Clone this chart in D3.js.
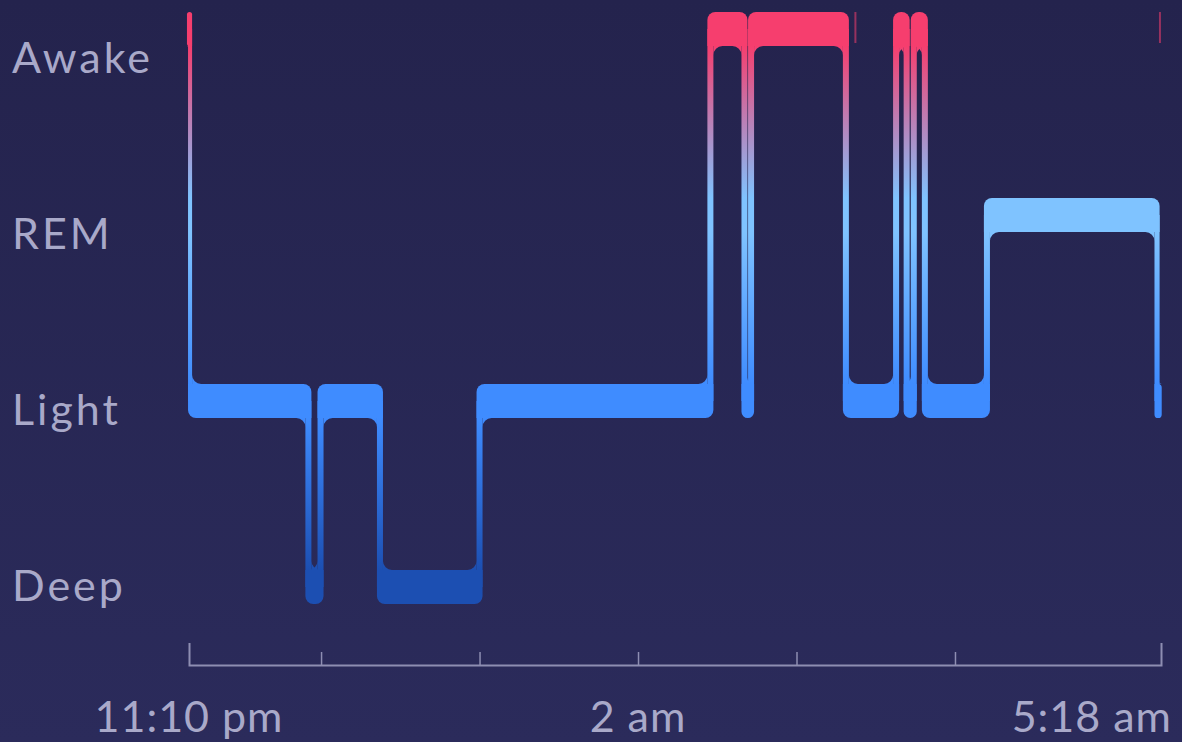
<!DOCTYPE html>
<html><head><meta charset="utf-8">
<script src="https://cdn.jsdelivr.net/npm/d3@7"></script>
<style>html,body{margin:0;padding:0;background:#26254f;overflow:hidden}</style>
</head><body><svg id="c" width="1182" height="742"></svg>
<script>
// ---- data ----
const stageNames = ["Awake", "REM", "Light", "Deep"];
// sleep segments: stage and start time (minutes after 11:10 pm)
const segStages   = ["Awake","Light","Deep","Light","Deep","Light","Awake","Light","Awake","Light","Awake","Light","Awake","Light","REM","Light"];
const segStartMin = [0, 0.4, 45.2, 49.8, 72.3, 110, 197.4, 210.3, 212.8, 248.7, 267.7, 271.7, 274.4, 278.6, 302.1, 366.5];
const sleepEndMin = 367.3;
// short wake marks (minutes after 11:10 pm)
const shortWakeMin = [252.3, 367.6];
// axis
const axisDomainMin = [0, 368];
const axisTickMin = [50, 110, 170, 230, 290];
const tickLabelMin = [0, 170, 368];
const tickLabelText = ["11:10 pm", "2 am", "5:18 am"];

// ---- style ----
const W = 1182, H = 742;
const stageColor = {Awake: "#f63e6e", REM: "#7fc3ff", Light: "#3f8cff", Deep: "#1c4fb2"};
const HALF = 17, R = 8, RF = 9, CW = 6, MINW = 3;
const textColor = "#a9a9c9", axisColor = "#8e8eb2";
const FONT = "Lato, 'Open Sans', sans-serif";

const svg = d3.select("#c");
const defs = svg.append("defs");

const bg = defs.append("linearGradient").attr("id","bg").attr("x1",0).attr("y1",0).attr("x2",0).attr("y2",1);
bg.append("stop").attr("offset",0).attr("stop-color","#24234d");
bg.append("stop").attr("offset",1).attr("stop-color","#2b2b5b");
svg.append("rect").attr("width",W).attr("height",H).attr("fill","url(#bg)");

const x = d3.scaleLinear().domain(axisDomainMin).range([189, 1161]);
const yBand = d3.scalePoint().domain(stageNames).range([29, 587]);
const yLabel = d3.scalePoint().domain(stageNames).range([73, 601]);
const level = s => stageNames.indexOf(s);

// global vertical gradient by stage
const g = defs.append("linearGradient").attr("id","stageGrad")
  .attr("gradientUnits","userSpaceOnUse").attr("x1",0).attr("y1",0).attr("x2",0).attr("y2",H);
stageNames.forEach(s => {
  const c = yBand(s);
  g.append("stop").attr("offset",(c-HALF)/H).attr("stop-color",stageColor[s]);
  g.append("stop").attr("offset",(c+HALF)/H).attr("stop-color",stageColor[s]);
});

// labels
svg.append("g").selectAll("text").data(stageNames).join("text")
  .attr("x",12).attr("y",d=>yLabel(d))
  .attr("fill",textColor).attr("font-family",FONT).attr("font-size",43)
  .attr("letter-spacing",3)
  .text(d=>d);

// segments
const n = segStages.length;
const segs = segStages.map((s,i)=>{
  const a = segStartMin[i], b = i<n-1 ? segStartMin[i+1] : sleepEndMin;
  return {stage:s, a, b, px: x(b)-x(a)};
});
const tw = d3.range(n-1).map(i => Math.min(CW, MINW + Math.min(segs[i].px, segs[i+1].px)));
segs.forEach((d,i)=>{
  d.x0 = x(d.a) - (i>0 ? tw[i-1] : tw[0])/2;
  d.x1 = x(d.b) + (i<n-1 ? tw[i] : tw[n-2])/2;
});

function bandPath(x0,y0,x1,y1,rtl,rtr,rbr,rbl){
  const p = d3.path();
  p.moveTo(x0+rtl,y0);
  p.lineTo(x1-rtr,y0);
  if(rtr) p.arcTo(x1,y0,x1,y0+rtr,rtr); else p.lineTo(x1,y0);
  p.lineTo(x1,y1-rbr);
  if(rbr) p.arcTo(x1,y1,x1-rbr,y1,rbr); else p.lineTo(x1,y1);
  p.lineTo(x0+rbl,y1);
  if(rbl) p.arcTo(x0,y1,x0,y1-rbl,rbl); else p.lineTo(x0,y1);
  p.lineTo(x0,y0+rtl);
  if(rtl) p.arcTo(x0,y0,x0+rtl,y0,rtl); else p.lineTo(x0,y0);
  p.closePath();
  return p.toString();
}
function filletPath(cx,cy,dx,dy,r){
  if(r<=0.3) return "";
  const sweep = dx*dy>0 ? 1 : 0;
  return `M${cx+dx*r},${cy}L${cx},${cy}L${cx},${cy+dy*r}A${r},${r} 0 0 ${sweep} ${cx+dx*r},${cy}Z`;
}

const paths = [];
segs.forEach((d,i)=>{
  const r = Math.min(R, (d.x1-d.x0)/2, HALF);
  const lv = level(d.stage);
  let tl=r,tr=r,br=r,bl=r;
  if(i>0){ if(level(segs[i-1].stage)<lv) tl=0; else bl=0; }
  if(i<n-1){ if(level(segs[i+1].stage)<lv) tr=0; else br=0; }
  const c = yBand(d.stage);
  paths.push(bandPath(d.x0,c-HALF,d.x1,c+HALF,tl,tr,br,bl));
});
for(let i=0;i<n-1;i++){
  const L = segs[i], Rt = segs[i+1], w = tw[i], xt = x(Rt.a);
  const upperIsLeft = level(L.stage) < level(Rt.stage);
  const up = upperIsLeft ? L : Rt, lo = upperIsLeft ? Rt : L;
  const yU = yBand(up.stage), yL = yBand(lo.stage);
  paths.push(`M${xt-w/2},${yU}H${xt+w/2}V${yL}H${xt-w/2}Z`);
  const rU = Math.min(RF, (up.x1-up.x0) - w);
  const rL = Math.min(RF, (lo.x1-lo.x0) - w);
  if(upperIsLeft){
    paths.push(filletPath(xt-w/2, yU+HALF, -1, 1, rU));
    paths.push(filletPath(xt+w/2, yL-HALF, 1, -1, rL));
  } else {
    paths.push(filletPath(xt+w/2, yU+HALF, 1, 1, rU));
    paths.push(filletPath(xt-w/2, yL-HALF, -1, -1, rL));
  }
}
svg.append("g").selectAll("path").data(paths.filter(p=>p)).join("path")
  .attr("d",d=>d).attr("fill","url(#stageGrad)");

// short wakes
svg.append("g").selectAll("rect").data(shortWakeMin).join("rect")
  .attr("x",d=>x(d)-1).attr("width",2)
  .attr("y",yBand("Awake")-HALF).attr("height",2*HALF-3)
  .attr("fill",stageColor.Awake).attr("opacity",0.55);

// axis
const axisG = svg.append("g").attr("transform","translate(0,665)")
  .call(d3.axisTop(x).tickValues(axisTickMin).tickSizeInner(13).tickSizeOuter(22).tickFormat(""));
axisG.select(".domain").attr("stroke",axisColor).attr("stroke-width",2);
axisG.selectAll(".tick line").attr("stroke",axisColor).attr("stroke-width",1.5);

const tl = svg.append("g").selectAll("text").data(tickLabelMin).join("text")
  .attr("x",d=>x(d)).attr("y",732).attr("text-anchor","middle")
  .attr("fill",textColor).attr("font-family",FONT).attr("font-size",43)
  .attr("letter-spacing",1)
  .text((d,i)=>tickLabelText[i]);
tl.each(function(){
  const b = this.getBBox();
  if(b.x+b.width > W-10) d3.select(this).attr("x", +d3.select(this).attr("x") - (b.x+b.width-(W-10)));
  if(b.x < 10) d3.select(this).attr("x", +d3.select(this).attr("x") + (10-b.x));
});
</script>
</body></html>
